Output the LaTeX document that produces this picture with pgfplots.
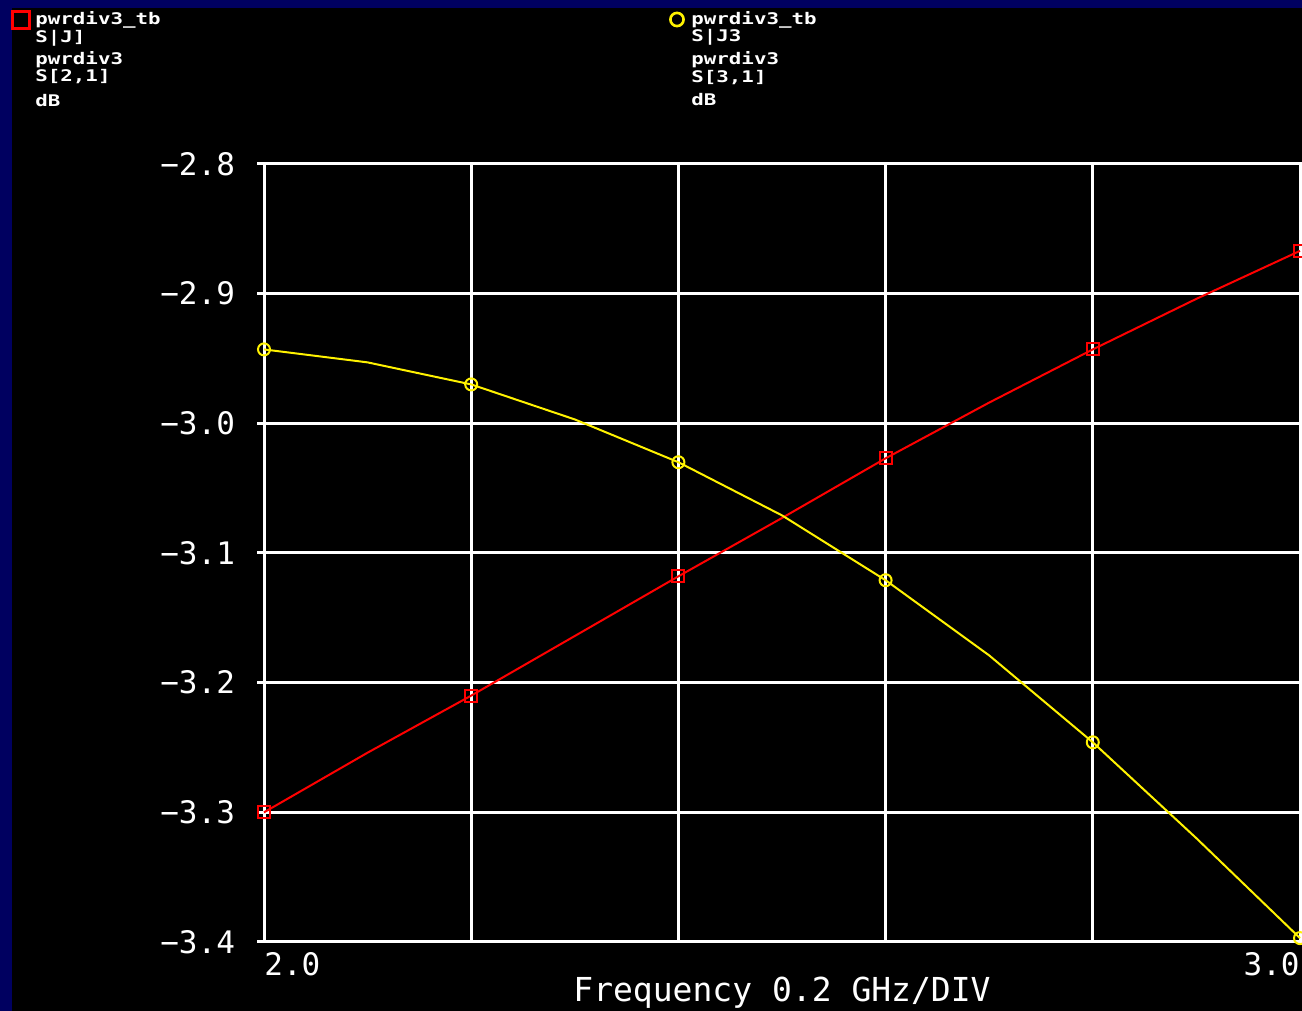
\documentclass[border=0pt]{standalone}
\usepackage{pgfplots}
\pgfplotsset{compat=1.18}
\usepackage{fontspec}
\setmainfont{DejaVu Sans Mono}
\newfontfamily\legfont[FakeStretch=1.3]{DejaVu Sans Mono Bold}
\definecolor{navy}{RGB}{0,0,96}
\pgfplotstableread{
x y
2.0 -3.300
2.1 -3.254
2.2 -3.210
2.3 -3.164
2.4 -3.118
2.5 -3.073
2.6 -3.027
2.7 -2.984
2.8 -2.943
2.9 -2.904
3.0 -2.867
}\redtab
\pgfplotstableread{
x y
2.0 -2.943
2.1 -2.953
2.2 -2.970
2.3 -2.997
2.4 -3.030
2.5 -3.071
2.6 -3.121
2.7 -3.179
2.8 -3.246
2.9 -3.320
3.0 -3.397
}\yeltab
\begin{document}
\begin{tikzpicture}
\fill[navy] (0,0) rectangle (651pt,505.5pt);
\fill[black] (6pt,0) rectangle (651pt,501.5pt);
\begin{axis}[
  scale only axis, width=518pt, height=389pt,
  at={(132pt,34.5pt)}, anchor=south west,
  xmin=2, xmax=3, ymin=-3.4, ymax=-2.8,
  xtick={2,2.2,2.4,2.6,2.8,3}, xticklabels={},
  ytick={-3.4,-3.3,-3.2,-3.1,-3.0,-2.9,-2.8},
  yticklabels={−3.4,−3.3,−3.2,−3.1,−3.0,−2.9,−2.8},
  grid=major, major grid style={white, line width=1.5pt},
  axis line style={white, line width=1.5pt},
  ytick style={white, line width=1.5pt},
  xtick style={draw=none},
  major tick length=3.5pt, tick align=outside,
  yticklabel style={font=\fontsize{15.5}{15.5}\selectfont, text=white, xshift=-7.5pt},
  clip=false,
]
\addplot[red, line width=1pt, mark=square, mark size=3pt, mark indices={1,3,5,7,9,11}, mark options={line width=1pt}] table[x=x,y=y] {\redtab};
\addplot[yellow, line width=1pt, mark=o, mark size=3pt, mark indices={1,3,5,7,9,11}, mark options={line width=1pt}] table[x=x,y=y] {\yeltab};
\node[anchor=north west, inner sep=0pt, text=white, font=\fontsize{15.5}{15.5}\selectfont, yshift=-5pt] at (axis cs:2,-3.4) {2.0};
\node[anchor=north east, inner sep=0pt, text=white, font=\fontsize{15.5}{15.5}\selectfont, yshift=-5pt] at (axis cs:3,-3.4) {3.0};
\node[anchor=center, inner sep=0pt, text=white, font=\fontsize{16.5}{16.5}\selectfont, yshift=-25.5pt] at (rel axis cs:0.5,0) {Frequency 0.2 GHz/DIV};
\end{axis}
\draw[red, line width=1.4pt] (6.3pt,491.3pt) rectangle (14.7pt,499.7pt);
\draw[yellow, line width=1.3pt] (338.5pt,495.75pt) circle (3.3pt);
\begin{scope}[every node/.style={anchor=west, inner sep=0pt, text=white, font=\legfont\fontsize{8}{8}\selectfont}]
\node at (17.5pt,495.5pt) {pwrdiv3\_tb};
\node at (17.5pt,486.5pt) {S|J]};
\node at (17.5pt,475.5pt) {pwrdiv3};
\node at (17.5pt,467pt) {S[2,1]};
\node at (17.5pt,455pt) {dB};
\node at (345.5pt,495.5pt) {pwrdiv3\_tb};
\node at (345.5pt,486.75pt) {S|J3};
\node at (345.5pt,475.5pt) {pwrdiv3};
\node at (345.5pt,466.5pt) {S[3,1]};
\node at (345.5pt,455.5pt) {dB};
\end{scope}
\pgfresetboundingbox
\useasboundingbox (0,0) rectangle (651pt,505.5pt);
\end{tikzpicture}
\end{document}
